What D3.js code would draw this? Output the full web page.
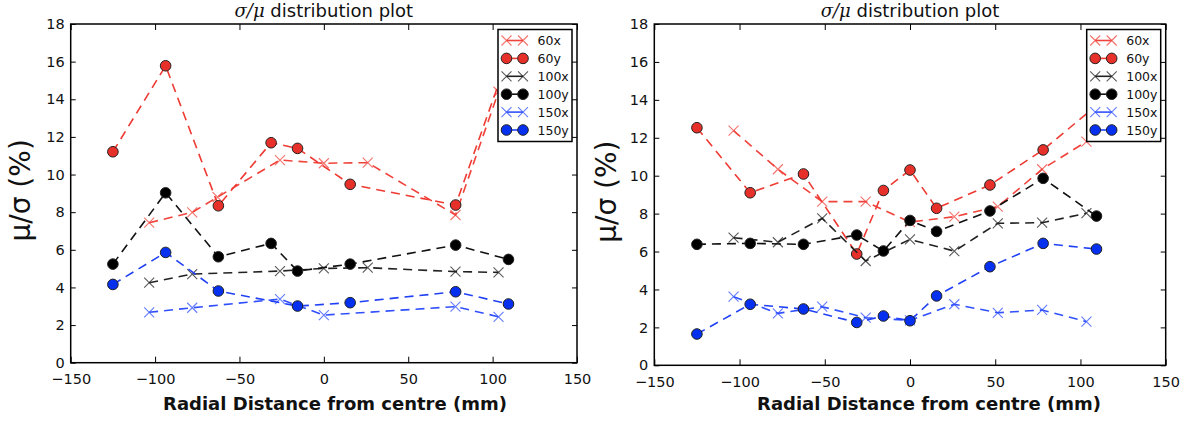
<!DOCTYPE html>
<html>
<head>
<meta charset="UTF-8">
<style>
  body { margin: 0; background: #fff; }
  svg { display: block; font-family: "DejaVu Sans", sans-serif; }
  .tick text { font-size: 14.5px; fill: #111; }
  .tick line { stroke: #000; stroke-width: 1; }
  .title { font-size: 18px; fill: #111; }
  .xlabel { font-size: 18px; font-weight: bold; fill: #111; }
  .ylabel { font-size: 28px; fill: #111; }
  .legend text { font-size: 12.5px; fill: #111; }
</style>
<title>sigma/mu distribution plot</title>
</head>
<body>
<svg id="chart" width="1190" height="431"></svg>

<script src="https://cdn.jsdelivr.net/npm/d3@7"></script>
<script>
  // ---- data ----
  const xTicks = [-150, -100, -50, 0, 50, 100, 150];
  const yTicks = [0, 2, 4, 6, 8, 10, 12, 14, 16, 18];
  const seriesNames = ["60x", "60y", "100x", "100y", "150x", "150y"];

  // left plot
  const left60xX = [-103.5, -78, -63, -26, 0, 26, 78, 103.5];
  const left60xY = [7.44, 7.99, 8.8, 10.77, 10.6, 10.63, 7.85, 14.4];
  const left60yX = [-125, -93.75, -62.5, -31.25, -15.6, 15.6, 78.1, 109.4];
  const left60yY = [11.21, 15.78, 8.34, 11.69, 11.39, 9.48, 8.38, 16.3];
  const left100xX = [-103.5, -78, -26, 0, 26, 78, 103.5];
  const left100xY = [4.25, 4.71, 4.87, 5.01, 5.05, 4.84, 4.8];
  const left100yX = [-125, -93.75, -62.5, -31.25, -15.6, 15.6, 78.1, 109.4];
  const left100yY = [5.24, 9.03, 5.63, 6.34, 4.87, 5.24, 6.25, 5.49];
  const left150xX = [-103.5, -78, -26, 0, 78, 103.5];
  const left150xY = [2.68, 2.92, 3.38, 2.53, 2.98, 2.44];
  const left150yX = [-125, -93.75, -62.5, -15.6, 15.6, 78.1, 109.4];
  const left150yY = [4.16, 5.86, 3.81, 3.01, 3.19, 3.77, 3.12];

  // right plot
  const rightXPos = [-103.5, -77.5, -51.5, -26, 0, 26, 51.5, 77.5, 103.5];
  const rightYPos = [-125, -93.75, -62.5, -31.25, -15.6, 0, 15.6, 46.9, 78.1, 109.4];
  const right60xY = [12.38, 10.34, 8.63, 8.63, 7.55, 7.84, 8.37, 10.34, 11.8];
  const right60yY = [12.53, 9.10, 10.09, 5.87, 9.22, 10.3, 8.28, 9.51, 11.36, 13.7];
  const right100xY = [6.73, 6.49, 7.75, 5.5, 6.64, 6.02, 7.49, 7.52, 8.02];
  const right100yY = [6.38, 6.43, 6.38, 6.87, 6.03, 7.64, 7.06, 8.14, 9.86, 7.87];
  const right150xY = [3.62, 2.74, 3.09, 2.51, 2.37, 3.22, 2.77, 2.92, 2.3];
  const right150yY = [1.65, 3.22, 2.97, 2.26, 2.6, 2.35, 3.66, 5.2, 6.43, 6.13];

  // ---- styles ----
  const lineColors = ["#f0433b", "#ee3a32", "#222", "#111", "#3050ff", "#2040f5"];
  const fillColors = [null, "#e8302a", null, "#000", null, "#0530f0"];

  function zip(xs, ys) {
    return xs.map((x, i) => ({ x: x, y: ys[i] }));
  }

  const svg = d3.select("#chart");

  function drawCross(g, color) {
    g.append("path")
      .attr("d", "M-5,-5L5,5M-5,5L5,-5")
      .attr("fill", "none")
      .attr("stroke", color)
      .attr("stroke-opacity", 0.75)
      .attr("stroke-width", 1.1);
  }

  function drawDot(g, color) {
    g.append("circle")
      .attr("r", 5.3)
      .attr("fill", color)
      .attr("stroke", "#222")
      .attr("stroke-width", 1);
  }

  function drawPanel(p) {
    const x = d3.scaleLinear().domain([-150, 150]).range([p.left, p.right]);
    const y = d3.scaleLinear().domain([0, 18]).range([p.bottom, p.top]);
    const g = svg.append("g");

    // series: dashed line, then its markers
    p.series.forEach((s, i) => {
      const pts = zip(s.xs, s.ys);
      const line = d3.line().x(d => x(d.x)).y(d => y(d.y));
      g.append("path")
        .datum(pts)
        .attr("d", line)
        .attr("fill", "none")
        .attr("stroke", lineColors[i])
        .attr("stroke-width", 1.6)
        .attr("stroke-dasharray", "9,6");

      const m = g.selectAll(null).data(pts).enter().append("g")
        .attr("transform", d => `translate(${x(d.x)},${y(d.y)})`);
      m.each(function () {
        if (fillColors[i]) drawDot(d3.select(this), fillColors[i]);
        else drawCross(d3.select(this), lineColors[i]);
      });
    });

    // ticks on all four sides, pointing inward
    const bottom = g.append("g").attr("transform", `translate(0,${p.bottom})`)
      .call(d3.axisBottom(x).tickValues(xTicks).tickSizeInner(-6).tickSizeOuter(0).tickPadding(11));
    const top = g.append("g").attr("transform", `translate(0,${p.top})`)
      .call(d3.axisTop(x).tickValues(xTicks).tickSizeInner(-6).tickSizeOuter(0).tickFormat(() => ""));
    const leftAx = g.append("g").attr("transform", `translate(${p.left},0)`)
      .call(d3.axisLeft(y).tickValues(yTicks).tickSizeInner(-5).tickSizeOuter(0).tickPadding(6));
    const rightAx = g.append("g").attr("transform", `translate(${p.right},0)`)
      .call(d3.axisRight(y).tickValues(yTicks).tickSizeInner(-5).tickSizeOuter(0).tickFormat(() => ""));
    [bottom, top, leftAx, rightAx].forEach(a => {
      a.select(".domain").remove();
      a.attr("font-family", null).attr("font-size", null);
    });

    // frame
    g.append("rect")
      .attr("x", p.left).attr("y", p.top)
      .attr("width", p.right - p.left).attr("height", p.bottom - p.top)
      .attr("fill", "none").attr("stroke", "#000").attr("stroke-width", 1.5);

    // legend
    const lg = g.append("g").attr("class", "legend")
      .attr("transform", `translate(${p.right - 79},${p.top + 5.5})`);
    lg.append("rect")
      .attr("width", 74).attr("height", 112)
      .attr("fill", "#fff").attr("stroke", "#000").attr("stroke-width", 1.5);
    seriesNames.forEach((name, i) => {
      const row = lg.append("g").attr("transform", `translate(0,${11 + i * 17.9})`);
      row.append("line")
        .attr("x1", 8.5).attr("x2", 25)
        .attr("stroke", lineColors[i]).attr("stroke-width", 1.6);
      [8.5, 25].forEach(mx => {
        const mk = row.append("g").attr("transform", `translate(${mx},0)`);
        if (fillColors[i]) drawDot(mk, fillColors[i]);
        else drawCross(mk, lineColors[i]);
      });
      row.append("text").attr("x", 39.5).attr("dy", "0.36em").text(name);
    });

    // title
    const t = g.append("text").attr("class", "title")
      .attr("x", (p.left + p.right) / 2).attr("y", 17)
      .attr("text-anchor", "middle");
    t.append("tspan").attr("font-family", "DejaVu Serif").attr("font-style", "italic").text("σ/μ");
    t.append("tspan").text(" distribution plot");

    // axis labels
    g.append("text").attr("class", "xlabel")
      .attr("x", p.xlabelX).attr("y", 410)
      .attr("text-anchor", "middle")
      .text("Radial Distance from centre (mm)");
    g.append("text").attr("class", "ylabel")
      .attr("transform", `translate(${p.ylabelX},${(p.top + p.bottom) / 2 - 3}) rotate(-90)`)
      .attr("text-anchor", "middle")
      .text("μ/σ (%)");
  }

  drawPanel({
    left: 70.7, right: 577, top: 24, bottom: 362.7,
    xlabelX: 335, ylabelX: 29.6,
    series: [
      { xs: left60xX, ys: left60xY },
      { xs: left60yX, ys: left60yY },
      { xs: left100xX, ys: left100xY },
      { xs: left100yX, ys: left100yY },
      { xs: left150xX, ys: left150xY },
      { xs: left150yX, ys: left150yY }
    ]
  });

  drawPanel({
    left: 654.3, right: 1165.7, top: 24, bottom: 365.3,
    xlabelX: 929, ylabelX: 616,
    series: [
      { xs: rightXPos, ys: right60xY },
      { xs: rightYPos, ys: right60yY },
      { xs: rightXPos, ys: right100xY },
      { xs: rightYPos, ys: right100yY },
      { xs: rightXPos, ys: right150xY },
      { xs: rightYPos, ys: right150yY }
    ]
  });
</script>
</body>
</html>
